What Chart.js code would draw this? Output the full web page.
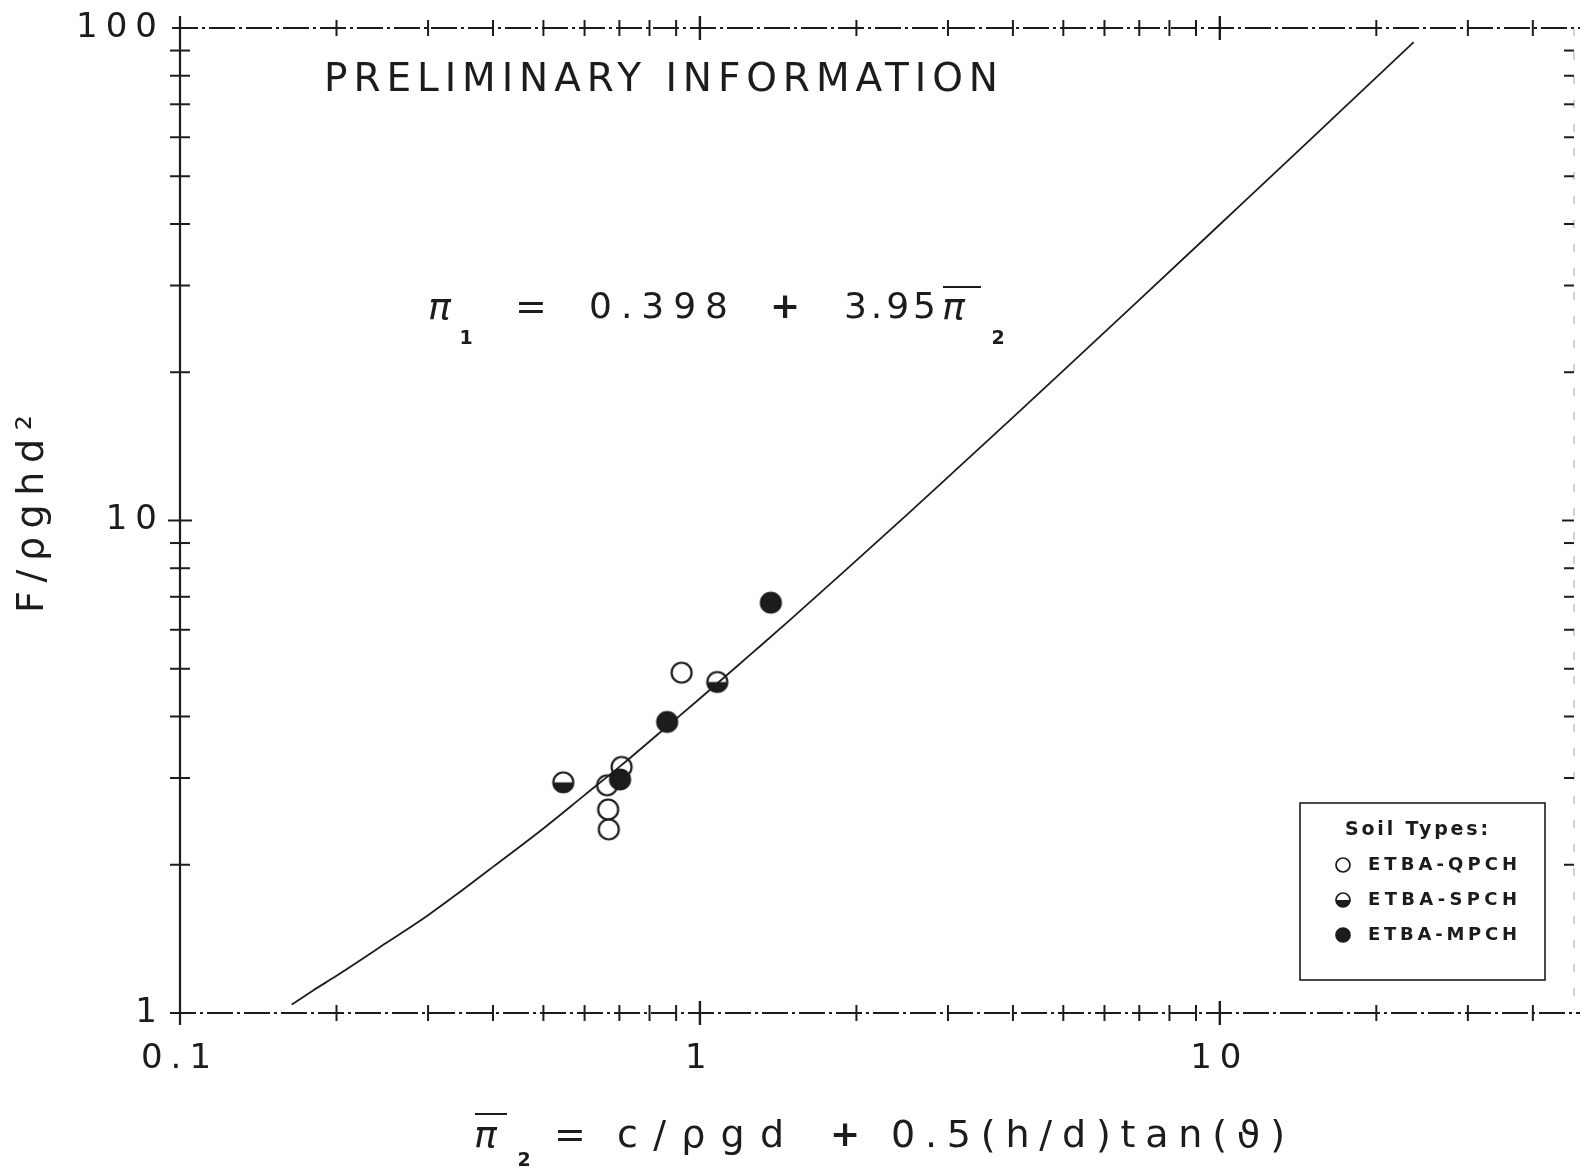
<!DOCTYPE html>
<html>
<head>
<meta charset="utf-8">
<script src="https://cdn.jsdelivr.net/npm/chart.js@4.4.0/dist/chart.umd.min.js"></script>
<style>
  html, body { margin: 0; padding: 0; background: #fff; }
</style>
</head>
<body>
<canvas id="forceChart" width="1580" height="1170"></canvas>
<script>
// fitted line pi1 = 0.398 + 3.95 pi2
const curveX = [0.164, 0.18, 0.2, 0.25, 0.3, 0.35, 0.4, 0.5, 0.6, 0.7, 0.85, 1, 1.25, 1.5, 2, 2.5, 3, 4, 5, 7, 10, 15, 20, 23.6];
const curveY = [1.04, 1.11, 1.19, 1.39, 1.58, 1.78, 1.98, 2.37, 2.77, 3.16, 3.76, 4.35, 5.34, 6.32, 8.3, 10.27, 12.25, 16.2, 20.15, 28.05, 39.9, 59.6, 79.4, 93.6];

// soil types
const qpchX = [0.922, 0.707, 0.663, 0.666, 0.668];
const qpchY = [4.91, 3.16, 2.90, 2.59, 2.36];
const spchX = [0.546, 1.080];
const spchY = [2.94, 4.70];
const mpchX = [0.702, 0.865, 1.369];
const mpchY = [2.98, 3.90, 6.81];

const seriesNames = ['ETBA-QPCH', 'ETBA-SPCH', 'ETBA-MPCH'];

// axis ticks and labels
const xLabelled = [0.1, 1, 10];
const yLabelled = [1, 10, 100];
const xMinor = [0.2, 0.3, 0.4, 0.5, 0.6, 0.7, 0.8, 0.9, 2, 3, 4, 5, 6, 7, 8, 9, 20, 30, 40];
const xMajor = [1, 10];
const yMinor = [2, 3, 4, 5, 6, 7, 8, 9, 20, 30, 40, 50, 60, 70, 80, 90];
const yMajor = [10];

const ink = '#1c1c1c';
const FONT = '"DejaVu Sans", "Liberation Sans", sans-serif';

const pairs = (xs, ys) => xs.map((v, i) => ({ x: v, y: ys[i] }));
const near = (v, list) => list.some(l => Math.abs(v - l) < l * 1e-6);

// marker pictures: open, half (bottom filled), full
function marker(kind, r) {
  const lw = r > 8 ? 2.2 : 1.7;
  const size = Math.ceil(2 * r + lw + 2);
  const c = document.createElement('canvas');
  c.width = c.height = size;
  const g = c.getContext('2d');
  const m = size / 2;
  g.fillStyle = ink;
  if (kind === 'full') {
    g.beginPath(); g.arc(m, m, r, 0, 2 * Math.PI); g.fill();
  }
  if (kind === 'half') {
    g.beginPath(); g.arc(m, m, r, 0, Math.PI); g.closePath(); g.fill();
  }
  g.beginPath(); g.arc(m, m, r, 0, 2 * Math.PI);
  g.lineWidth = lw; g.strokeStyle = ink; g.stroke();
  return c;
}
const kinds = ['open', 'half', 'full'];
const bigMarks = kinds.map(k => marker(k, 10));
const smallMarks = kinds.map(k => marker(k, 7));

// text spread out between two x positions
function spread(ctx, text, x0, x1, y, font) {
  ctx.font = font;
  ctx.letterSpacing = '0px';
  const w = ctx.measureText(text).width;
  const n = [...text].length;
  const s = n > 1 ? (x1 - x0 - w) / (n - 1) : 0;
  ctx.letterSpacing = s + 'px';
  ctx.textAlign = 'left';
  ctx.textBaseline = 'middle';
  ctx.fillText(text, x0, y);
  ctx.letterSpacing = '0px';
}
function centred(ctx, text, x, y, font) {
  ctx.font = font;
  ctx.letterSpacing = '0px';
  ctx.textAlign = 'center';
  ctx.textBaseline = 'middle';
  ctx.fillText(text, x, y);
}
function piBar(ctx, x0, x1, y, barY) {
  spread(ctx, '\u03C0', x0, x1, y, 'oblique 38px ' + FONT);
  ctx.beginPath();
  ctx.moveTo(x0 + 1, barY); ctx.lineTo(x1 + 3, barY);
  ctx.lineWidth = 2; ctx.stroke();
}

const frame = {
  id: 'frame',
  beforeDraw(chart) {
    chart.ctx.letterSpacing = '8px'; // wide plotter digits on tick labels
  },
  beforeDatasetsDraw(chart) {
    const { ctx, chartArea: a, scales: { x, y } } = chart;
    ctx.letterSpacing = '0px';
    ctx.save();
    ctx.strokeStyle = ink;
    const seg = (x0, y0, x1, y1) => { ctx.beginPath(); ctx.moveTo(x0, y0); ctx.lineTo(x1, y1); ctx.stroke(); };

    ctx.lineWidth = 2.2;
    seg(a.left, a.top - 12, a.left, a.bottom + 12);
    ctx.lineWidth = 2;
    ctx.setLineDash([26, 4, 3, 4]);
    seg(a.left - 8, a.top, 1580, a.top);
    seg(a.left - 10, a.bottom, 1580, a.bottom);
    ctx.lineWidth = 1.2;
    ctx.strokeStyle = '#b4b4b4';
    ctx.setLineDash([8, 16]);
    seg(a.right, a.top, a.right, a.bottom);
    ctx.setLineDash([]);
    ctx.strokeStyle = ink;

    ctx.lineWidth = 2;
    xMinor.forEach(v => {
      const p = x.getPixelForValue(v);
      seg(p, a.top - 8, p, a.top + 8);
      seg(p, a.bottom - 8, p, a.bottom + 8);
    });
    ctx.lineWidth = 2.4;
    xMajor.forEach(v => {
      const p = x.getPixelForValue(v);
      seg(p, a.top - 12, p, a.top + 12);
      seg(p, a.bottom - 12, p, a.bottom + 12);
    });
    ctx.lineWidth = 2;
    yMinor.forEach(v => {
      const p = y.getPixelForValue(v);
      seg(a.left - 10, p, a.left + 10, p);
      seg(a.right - 10, p, a.right, p);
    });
    yMajor.forEach(v => {
      const p = y.getPixelForValue(v);
      seg(a.left - 12, p, a.left + 12, p);
      seg(a.right - 12, p, a.right, p);
    });
    ctx.restore();
  },
  afterDraw(chart) {
    const { ctx } = chart;
    ctx.save();
    ctx.fillStyle = ink;
    ctx.strokeStyle = ink;

    spread(ctx, 'PRELIMINARY INFORMATION', 324, 998, 81, '39px ' + FONT);

    // equation
    spread(ctx, '\u03C0', 428, 453, 309, 'oblique 38px ' + FONT);
    centred(ctx, '1', 466, 339, 'bold 19px ' + FONT);
    centred(ctx, '=', 531, 309, '38px ' + FONT);
    spread(ctx, '0.398', 589, 728, 309, '36px ' + FONT);
    centred(ctx, '+', 785, 309, 'bold 36px ' + FONT);
    spread(ctx, '3.95', 844, 936, 309, '36px ' + FONT);
    piBar(ctx, 942, 978, 309, 287);
    centred(ctx, '2', 998, 339, 'bold 19px ' + FONT);

    // x axis title
    piBar(ctx, 474, 504, 1137, 1114);
    centred(ctx, '2', 524, 1161, 'bold 19px ' + FONT);
    centred(ctx, '=', 570, 1137, '38px ' + FONT);
    spread(ctx, 'c/\u03C1gd', 617, 784, 1137, '38px ' + FONT);
    centred(ctx, '+', 845, 1137, 'bold 36px ' + FONT);
    spread(ctx, '0.5(h/d)tan(\u03D1)', 891, 1285, 1137, '38px ' + FONT);

    // y axis title
    ctx.save();
    ctx.translate(33, 514);
    ctx.rotate(-Math.PI / 2);
    spread(ctx, 'F/\u03C1ghd\u00B2', -99, 99, 0, '38px ' + FONT);
    ctx.restore();

    // legend box
    ctx.lineWidth = 1.6;
    ctx.strokeRect(1300, 803, 245, 177);
    spread(ctx, 'Soil Types:', 1345, 1488, 830, 'bold 19px ' + FONT);
    const rowY = [865, 900, 935];
    chart.data.datasets.filter(d => d.label).forEach((d, i) => {
      const img = smallMarks[i];
      ctx.drawImage(img, 1343 - img.width / 2, rowY[i] - img.height / 2);
      spread(ctx, d.label, 1368, 1517, rowY[i], 'bold 18px ' + FONT);
    });
    ctx.restore();
  }
};

new Chart(document.getElementById('forceChart').getContext('2d'), {
  type: 'scatter',
  data: {
    datasets: [
      { label: seriesNames[0], data: pairs(qpchX, qpchY), pointStyle: bigMarks[0], order: 0 },
      { label: seriesNames[1], data: pairs(spchX, spchY), pointStyle: bigMarks[1], order: 0 },
      { label: seriesNames[2], data: pairs(mpchX, mpchY), pointStyle: bigMarks[2], order: 0 },
      {
        type: 'line',
        label: '',
        data: pairs(curveX, curveY),
        borderColor: ink,
        borderWidth: 1.8,
        pointRadius: 0,
        cubicInterpolationMode: 'monotone',
        fill: false,
        order: 5,
      },
    ],
  },
  options: {
    responsive: false,
    animation: false,
    layout: { padding: { top: 28, right: 6, left: 0, bottom: 0 } },
    plugins: { legend: { display: false }, tooltip: { enabled: false } },
    scales: {
      x: {
        type: 'logarithmic',
        min: 0.1,
        max: 48,
        grid: { display: false, drawTicks: false },
        border: { display: false },
        afterFit: s => { s.height = 157; s.paddingLeft = 0; s.paddingRight = 0; },
        ticks: {
          autoSkip: false,
          maxRotation: 0,
          padding: 26,
          color: ink,
          font: { family: FONT, size: 34 },
          callback: v => (near(v, xLabelled) ? String(v) : ''),
        },
      },
      y: {
        type: 'logarithmic',
        min: 1,
        max: 100,
        grid: { display: false, drawTicks: false },
        border: { display: false },
        afterFit: s => { s.width = 180; s.paddingTop = 0; s.paddingBottom = 0; },
        ticks: {
          autoSkip: false,
          padding: 15,
          color: ink,
          font: { family: FONT, size: 34 },
          callback: v => (near(v, yLabelled) ? String(v) : ''),
        },
      },
    },
  },
  plugins: [frame],
});
</script>
</body>
</html>
